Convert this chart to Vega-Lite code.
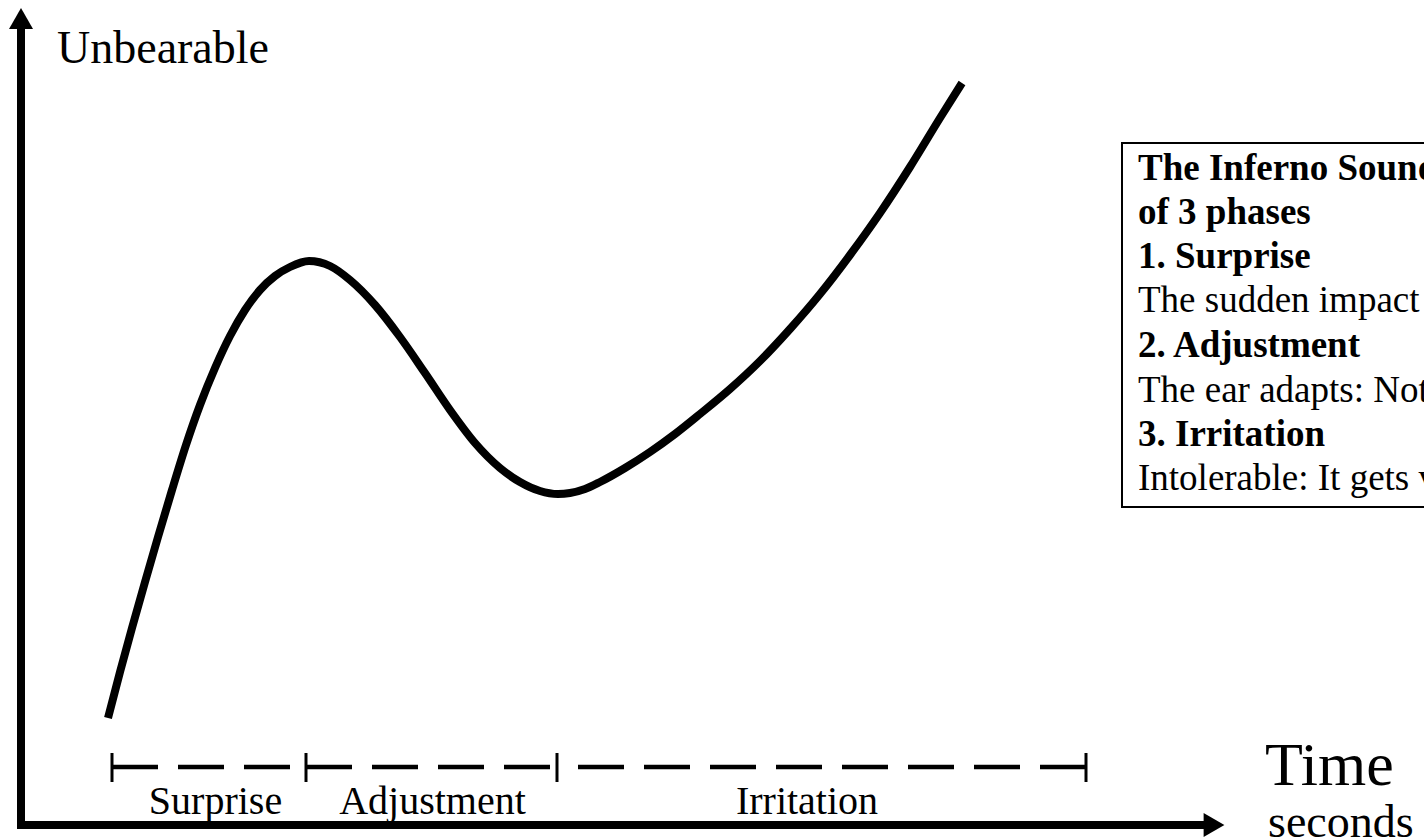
{
  "$schema": "https://vega.github.io/schema/vega-lite/v6.json",
  "width": 1424,
  "height": 839,
  "autosize": "none",
  "padding": 0,
  "background": "white",
  "config": {"view": {"stroke": null}},
  "datasets": {
    "curve": [
      {"t": 10.8, "v": 12.1}, {"t": 12.0, "v": 16.7}, {"t": 13.2, "v": 21.1}, {"t": 14.5, "v": 25.7},
      {"t": 15.8, "v": 30.2}, {"t": 17.2, "v": 34.9}, {"t": 18.6, "v": 39.4}, {"t": 20.0, "v": 43.4},
      {"t": 21.5, "v": 47.1}, {"t": 23.0, "v": 50.3}, {"t": 24.5, "v": 52.9}, {"t": 26.0, "v": 54.9},
      {"t": 27.5, "v": 56.3}, {"t": 29.0, "v": 57.2}, {"t": 30.9, "v": 57.8},
      {"t": 33.0, "v": 57.3}, {"t": 35.0, "v": 55.9}, {"t": 37.5, "v": 53.4}, {"t": 40.0, "v": 50.2},
      {"t": 42.5, "v": 46.6}, {"t": 45.0, "v": 42.9}, {"t": 47.5, "v": 39.6}, {"t": 50.0, "v": 37.1},
      {"t": 52.0, "v": 35.7}, {"t": 54.0, "v": 34.8}, {"t": 55.8, "v": 34.5},
      {"t": 57.0, "v": 34.6}, {"t": 58.5, "v": 35.0}, {"t": 60.0, "v": 35.7}, {"t": 62.5, "v": 37.1},
      {"t": 65.0, "v": 38.7}, {"t": 67.5, "v": 40.5}, {"t": 70.0, "v": 42.5}, {"t": 73.0, "v": 45.0},
      {"t": 76.0, "v": 47.8}, {"t": 79.0, "v": 51.0}, {"t": 82.0, "v": 54.5}, {"t": 85.0, "v": 58.4},
      {"t": 88.0, "v": 62.6}, {"t": 91.0, "v": 67.2}, {"t": 94.0, "v": 72.1}, {"t": 96.2, "v": 75.6}
    ],
    "axes": [
      {"t": 2.1, "t2": 2.1, "v": 1.0, "v2": 81.0},
      {"t": 1.7, "t2": 120.6, "v": 1.4, "v2": 1.4}
    ],
    "arrowUp": [{"t": 2.1, "v": 82.05}],
    "arrowRight": [{"t": 121.4, "v": 1.4}],
    "ticks": [
      {"t": 11.2, "v": 8.6, "v2": 5.7},
      {"t": 30.6, "v": 8.6, "v2": 5.7},
      {"t": 55.7, "v": 8.6, "v2": 5.7},
      {"t": 108.6, "v": 8.6, "v2": 5.7}
    ],
    "phases": [
      {"t": 11.2, "t2": 30.6, "v": 7.2},
      {"t": 30.6, "t2": 55.7, "v": 7.2},
      {"t": 108.6, "t2": 55.7, "v": 7.2}
    ],
    "phaseLabels": [
      {"label": "Surprise", "t": 21.55, "v": 2.5},
      {"label": "Adjustment", "t": 43.25, "v": 2.5},
      {"label": "Irritation", "t": 80.7, "v": 2.5}
    ],
    "box": [{"t": 112.2, "t2": 160, "v": 69.6, "v2": 33.2}],
    "boxText": [
      {"label": "The Inferno Sound consists", "kind": "head", "t": 113.8, "v": 65.9},
      {"label": "of 3 phases", "kind": "head", "t": 113.8, "v": 61.5},
      {"label": "1. Surprise", "kind": "head", "t": 113.8, "v": 57.1},
      {"label": "The sudden impact of noise", "kind": "body", "t": 113.8, "v": 52.7},
      {"label": "2. Adjustment", "kind": "head", "t": 113.8, "v": 48.2},
      {"label": "The ear adapts: Not so bad", "kind": "body", "t": 113.8, "v": 43.7},
      {"label": "3. Irritation", "kind": "head", "t": 113.8, "v": 39.3},
      {"label": "Intolerable: It gets very annoying", "kind": "body", "t": 113.8, "v": 34.9}
    ]
  },
  "layer": [
    {
      "data": {"name": "box"},
      "mark": {"type": "rect", "fill": null, "stroke": "black", "strokeWidth": 2},
      "encoding": {
        "x": {"field": "t", "type": "quantitative", "scale": {"domain": [0, 142.4], "nice": false, "zero": false}, "axis": null},
        "x2": {"field": "t2"},
        "y": {"field": "v", "type": "quantitative", "scale": {"domain": [0, 83.9], "nice": false, "zero": false}, "axis": null},
        "y2": {"field": "v2"}
      }
    },
    {
      "data": {"name": "boxText"},
      "transform": [{"filter": "datum.kind === 'head'"}],
      "mark": {"type": "text", "font": "Liberation Serif", "fontSize": 37, "fontWeight": "bold", "align": "left", "baseline": "alphabetic", "color": "black"},
      "encoding": {
        "x": {"field": "t", "type": "quantitative"},
        "y": {"field": "v", "type": "quantitative"},
        "text": {"field": "label"}
      }
    },
    {
      "data": {"name": "boxText"},
      "transform": [{"filter": "datum.kind === 'body'"}],
      "mark": {"type": "text", "font": "Liberation Serif", "fontSize": 37, "fontWeight": "normal", "align": "left", "baseline": "alphabetic", "color": "black"},
      "encoding": {
        "x": {"field": "t", "type": "quantitative"},
        "y": {"field": "v", "type": "quantitative"},
        "text": {"field": "label"}
      }
    },
    {
      "data": {"name": "axes"},
      "mark": {"type": "rule", "color": "black", "strokeWidth": 8, "strokeCap": "butt"},
      "encoding": {
        "x": {"field": "t", "type": "quantitative"},
        "x2": {"field": "t2"},
        "y": {"field": "v", "type": "quantitative"},
        "y2": {"field": "v2"}
      }
    },
    {
      "data": {"name": "arrowUp"},
      "mark": {"type": "point", "shape": "triangle-up", "size": 576, "filled": true, "color": "black", "opacity": 1, "strokeWidth": 0},
      "encoding": {
        "x": {"field": "t", "type": "quantitative"},
        "y": {"field": "v", "type": "quantitative"}
      }
    },
    {
      "data": {"name": "arrowRight"},
      "mark": {"type": "point", "shape": "triangle-right", "size": 576, "filled": true, "color": "black", "opacity": 1, "strokeWidth": 0},
      "encoding": {
        "x": {"field": "t", "type": "quantitative"},
        "y": {"field": "v", "type": "quantitative"}
      }
    },
    {
      "data": {"name": "curve"},
      "mark": {"type": "line", "color": "black", "strokeWidth": 8, "interpolate": "monotone", "strokeCap": "butt"},
      "encoding": {
        "x": {"field": "t", "type": "quantitative"},
        "y": {"field": "v", "type": "quantitative"}
      }
    },
    {
      "data": {"name": "ticks"},
      "mark": {"type": "rule", "color": "black", "strokeWidth": 3},
      "encoding": {
        "x": {"field": "t", "type": "quantitative"},
        "y": {"field": "v", "type": "quantitative"},
        "y2": {"field": "v2"}
      }
    },
    {
      "data": {"name": "phases"},
      "mark": {"type": "rule", "color": "black", "strokeWidth": 4.5, "strokeDash": [46, 20], "strokeCap": "butt"},
      "encoding": {
        "x": {"field": "t", "type": "quantitative"},
        "x2": {"field": "t2"},
        "y": {"field": "v", "type": "quantitative"}
      }
    },
    {
      "data": {"name": "phaseLabels"},
      "mark": {"type": "text", "font": "Liberation Serif", "fontSize": 40, "align": "center", "baseline": "alphabetic", "color": "black"},
      "encoding": {
        "x": {"field": "t", "type": "quantitative"},
        "y": {"field": "v", "type": "quantitative"},
        "text": {"field": "label"}
      }
    },
    {
      "data": {"values": [{"label": "Unbearable", "t": 5.7, "v": 77.6}]},
      "mark": {"type": "text", "font": "Liberation Serif", "fontSize": 46, "align": "left", "baseline": "alphabetic", "color": "black"},
      "encoding": {
        "x": {"field": "t", "type": "quantitative"},
        "y": {"field": "v", "type": "quantitative"},
        "text": {"field": "label"}
      }
    },
    {
      "data": {"values": [{"label": "Time", "t": 126.5, "v": 5.4}]},
      "mark": {"type": "text", "font": "Liberation Serif", "fontSize": 62, "align": "left", "baseline": "alphabetic", "color": "black"},
      "encoding": {
        "x": {"field": "t", "type": "quantitative"},
        "y": {"field": "v", "type": "quantitative"},
        "text": {"field": "label"}
      }
    },
    {
      "data": {"values": [{"label": "seconds", "t": 126.8, "v": 0.2}]},
      "mark": {"type": "text", "font": "Liberation Serif", "fontSize": 46, "align": "left", "baseline": "alphabetic", "color": "black"},
      "encoding": {
        "x": {"field": "t", "type": "quantitative"},
        "y": {"field": "v", "type": "quantitative"},
        "text": {"field": "label"}
      }
    }
  ]
}
